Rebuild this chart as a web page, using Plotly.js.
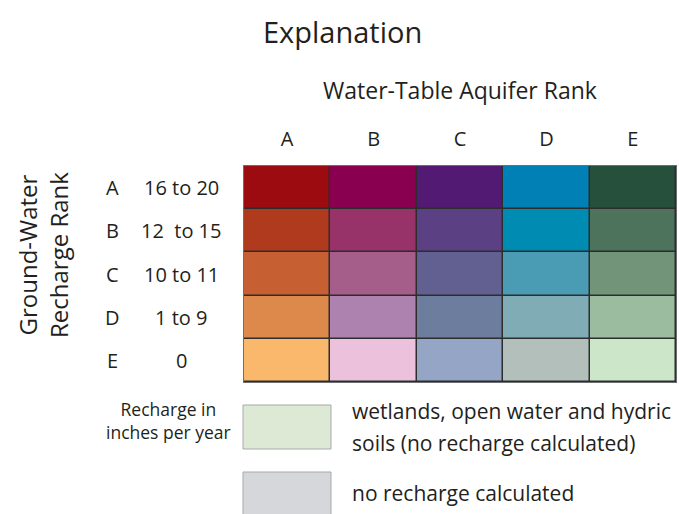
<!DOCTYPE html>
<html>
<head>
<meta charset="utf-8">
<script src="https://cdn.plot.ly/plotly-3.0.1.min.js"></script>
<style>html,body{margin:0;padding:0;background:#fff;}#chart{width:679px;height:514px;}</style>
</head>
<body>
<div id="chart"></div>
<script>
// Water-table aquifer rank (columns) and ground-water recharge rank (rows)
const aquiferRanks = ['A', 'B', 'C', 'D', 'E'];
const rechargeRanks = ['A', 'B', 'C', 'D', 'E'];
const rechargeRanges = ['16 to 20', '12\u00a0 to 15', '10 to 11', '1 to 9', '0'];
// Cell colours, one row per recharge rank, one entry per aquifer rank
const rowA = ['#9b0b10', '#8a0050', '#521a72', '#0080b4', '#27503c'];
const rowB = ['#b03a1e', '#98336a', '#5b4183', '#008bb2', '#4d735c'];
const rowC = ['#c66032', '#a45e89', '#616090', '#4a9bb4', '#72957a'];
const rowD = ['#de894c', '#ae82ae', '#6c7d9e', '#80acb5', '#9cbc9f'];
const rowE = ['#f9b86c', '#ebc1dc', '#95a5c6', '#b2bfba', '#cce6ca'];
const legendItems = ['wetlands, open water and hydric|soils (no recharge calculated)', 'no recharge calculated'];
const legendColors = ['#dde9d5', '#d6d7da'];
const unitLines = ['Recharge in', 'inches per year'];

const rows = [rowA, rowB, rowC, rowD, rowE];
const allColors = [].concat(...rows);
const n = allColors.length;
const colorscale = allColors.map((c, i) => [i / (n - 1), c]);
const z = rows.map((r, ri) => r.map((_, ci) => ri * 5 + ci));

const FONT = 'Open Sans, sans-serif';
const TXT = '#231f20';
// pixel helpers (plot area: x 244..676, y 166..382)
const X0 = 244, W = 432, Y1 = 382, H = 216;
const px = x => (x - X0) / W;
const py = y => (Y1 - y) / H;

const annotations = [];
annotations.push({text: 'Explanation', xref: 'paper', yref: 'paper', x: px(342), y: py(32), showarrow: false, xanchor: 'center', yanchor: 'middle', font: {family: FONT, size: 29, color: TXT}});
annotations.push({text: 'Water-Table Aquifer Rank', xref: 'paper', yref: 'paper', x: px(460), y: py(90), showarrow: false, xanchor: 'center', yanchor: 'middle', font: {family: FONT, size: 23, color: TXT}});
rechargeRanks.forEach((r, i) => {
  annotations.push({text: r, xref: 'paper', yref: 'y', x: px(112), y: r, showarrow: false, xanchor: 'center', yanchor: 'middle', font: {family: FONT, size: 20, color: TXT}});
  annotations.push({text: rechargeRanges[i], xref: 'paper', yref: 'y', x: px(181), y: r, showarrow: false, xanchor: 'center', yanchor: 'middle', font: {family: FONT, size: 20, color: TXT}});
});
annotations.push({text: unitLines.join('<br>'), xref: 'paper', yref: 'paper', x: px(168), y: py(420), showarrow: false, xanchor: 'center', yanchor: 'middle', font: {family: FONT, size: 17.5, color: TXT}});
annotations.push({text: 'Ground-Water<br>Recharge Rank', xref: 'paper', yref: 'paper', x: px(43), y: py(255), textangle: -90, showarrow: false, xanchor: 'center', yanchor: 'middle', font: {family: FONT, size: 24, color: TXT}});

const shapes = [];
const boxTops = [405, 472];
legendItems.forEach((item, i) => {
  shapes.push({type: 'rect', xref: 'paper', yref: 'paper', x0: px(243), x1: px(331), y0: py(boxTops[i]), y1: py(boxTops[i] + 44), fillcolor: legendColors[i], line: {color: '#a7a9ac', width: 1}});
  const lines = item.split('|');
  lines.forEach((ln, j) => {
    const yc = lines.length === 1 ? boxTops[i] + 21 : boxTops[i] + 6 + j * 32;
    annotations.push({text: ln, xref: 'paper', yref: 'paper', x: px(350), y: py(yc), showarrow: false, xanchor: 'left', yanchor: 'middle', font: {family: FONT, size: 21, color: TXT}});
  });
});

const data = [{
  type: 'heatmap',
  x: aquiferRanks,
  y: rechargeRanks,
  z: z,
  zmin: 0,
  zmax: n - 1,
  colorscale: colorscale,
  showscale: false,
  xgap: 1.5,
  ygap: 1.5,
  hoverinfo: 'skip'
}];

const layout = {
  width: 679,
  height: 514,
  margin: {l: 244, r: 3, t: 166, b: 132},
  paper_bgcolor: '#ffffff',
  plot_bgcolor: '#2d2d2d',
  showlegend: false,
  xaxis: {side: 'top', type: 'category', ticks: '', showgrid: false, zeroline: false, showline: true, mirror: true, linecolor: '#6d6e71', linewidth: 1, tickfont: {family: FONT, size: 20, color: TXT}, ticklabelstandoff: 11, fixedrange: true},
  yaxis: {type: 'category', autorange: 'reversed', showticklabels: false, ticks: '', showgrid: false, zeroline: false, showline: true, mirror: true, linecolor: '#6d6e71', linewidth: 1, fixedrange: true},
  annotations: annotations,
  shapes: shapes
};

Plotly.newPlot('chart', data, layout, {displayModeBar: false, staticPlot: true});
</script>
</body>
</html>
